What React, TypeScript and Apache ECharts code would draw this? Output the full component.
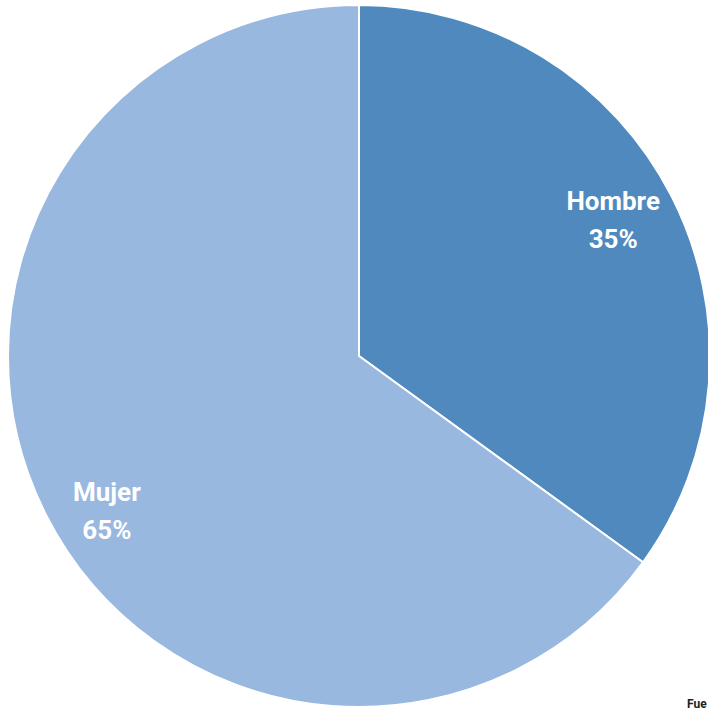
import React, { useEffect, useRef } from "react";
import * as echarts from "echarts";

const categories = ["Hombre", "Mujer"];
const values = [35, 65];
const colors = ["#4f89bd", "#98b8e0"];
const labelShift = [
  [-6, -3],
  [8, 22],
];

export default function App() {
  const ref = useRef<HTMLDivElement>(null);
  useEffect(() => {
    if (!ref.current) return;
    const chart = echarts.init(ref.current, undefined, { renderer: "svg" });
    const data = categories.map((c, i) => ({ name: c, value: values[i] }));
    const font = "Roboto, 'Noto Sans', sans-serif";
    chart.setOption({
      animation: false,
      backgroundColor: "#ffffff",
      series: [
        {
          type: "pie",
          center: [359, 356],
          radius: [0, 351],
          startAngle: 90,
          clockwise: true,
          silent: true,
          label: { show: false },
          labelLine: { show: false },
          itemStyle: { borderColor: "#ffffff", borderWidth: 2 },
          data: data.map((d, i) => ({ ...d, itemStyle: { color: colors[i] } })),
        },
        {
          type: "pie",
          center: [359, 356],
          radius: [0, 578],
          startAngle: 90,
          clockwise: true,
          silent: true,
          z: 5,
          itemStyle: { color: "transparent", borderWidth: 0 },
          labelLine: { show: false },
          label: {
            show: true,
            position: "inside",
            formatter: (p: any) => `${p.name}\n${p.value}%`,
            color: "#ffffff",
            fontFamily: font,
            fontWeight: "bold",
            fontSize: 26,
            lineHeight: 38,
            align: "center",
          },
          labelLayout: (p: any) => ({
            dx: labelShift[p.dataIndex][0],
            dy: labelShift[p.dataIndex][1],
          }),
          data,
        },
      ],
      graphic: [
        {
          type: "text",
          left: 687,
          top: 698,
          style: {
            text: "Fue",
            fill: "#222222",
            font: "bold 12px Roboto, sans-serif",
          },
        },
      ],
    });
    return () => chart.dispose();
  }, []);
  return (
    <div
      ref={ref}
      style={{ position: "fixed", left: 0, top: 0, width: 708, height: 711 }}
    />
  );
}
